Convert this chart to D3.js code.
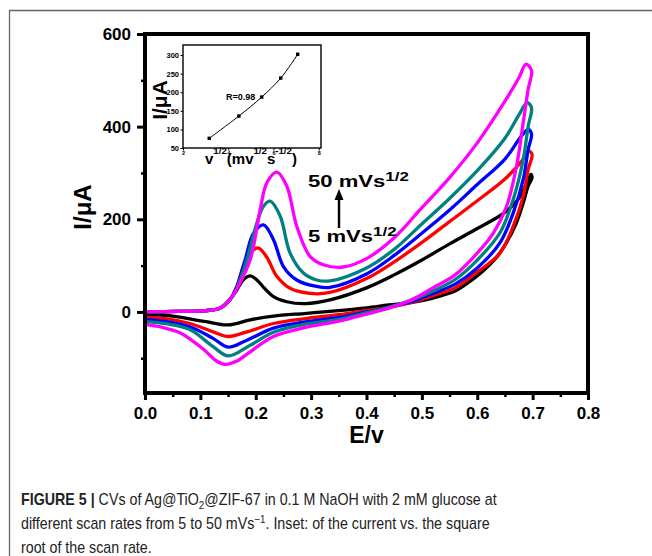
<!DOCTYPE html>
<html>
<head>
<meta charset="utf-8">
<script src="https://cdn.jsdelivr.net/npm/d3@7"></script>
<style>
  html, body { margin: 0; padding: 0; background: #fff; }
  svg { display: block; font-family: "Liberation Sans", Arial, Helvetica, sans-serif; }
</style>
</head>
<body>
<svg id="fig" width="652" height="556"></svg>
<script>
// ---- data: cyclic voltammograms, potential E (V) vs current I (µA) ----
// each scan: anodic sweep 0 -> 0.7 V, then cathodic return 0.7 -> 0 V
const scanColors = ["#000000", "#ff0000", "#0000ff", "#008080", "#ff00ff"];

const anodic1 = [[0,0],[0.06,1],[0.11,3],[0.135,8],[0.153,26],[0.166,48],[0.178,70],[0.19,78],[0.203,68],[0.215,52],[0.232,33],[0.256,22],[0.29,18],[0.334,26],[0.40,52],[0.45,80],[0.50,112],[0.55,147],[0.60,180],[0.65,215],[0.675,245],[0.69,280],[0.697,297]];
const cathodic1 = [[0.699,290],[0.692,272],[0.683,235],[0.67,190],[0.653,150],[0.635,118],[0.61,88],[0.58,60],[0.56,45],[0.52,30],[0.48,20],[0.44,15],[0.40,9],[0.35,3],[0.292,-3],[0.232,-9],[0.19,-17],[0.15,-28],[0.11,-21],[0.05,-9],[0,-5]];

const anodic2 = [[0,0],[0.06,1],[0.11,3],[0.135,8],[0.153,26],[0.166,55],[0.178,100],[0.192,130],[0.205,138],[0.22,118],[0.238,77],[0.262,51],[0.298,40],[0.334,42],[0.40,72],[0.45,108],[0.50,150],[0.55,195],[0.60,240],[0.65,287],[0.68,325],[0.693,347]];
const cathodic2 = [[0.699,340],[0.692,308],[0.683,250],[0.665,185],[0.641,127],[0.60,86],[0.56,52],[0.52,35],[0.48,20],[0.44,10],[0.40,3],[0.35,-6],[0.292,-14],[0.232,-25],[0.184,-43],[0.15,-53],[0.123,-43],[0.081,-25],[0.04,-15],[0,-11]];

const anodic3 = [[0,0],[0.06,1],[0.11,3],[0.135,8],[0.153,26],[0.166,55],[0.181,113],[0.196,170],[0.214,188],[0.232,156],[0.25,98],[0.274,69],[0.31,55],[0.334,53],[0.40,82],[0.45,122],[0.50,170],[0.55,220],[0.60,275],[0.65,330],[0.68,380],[0.692,394]];
const cathodic3 = [[0.698,384],[0.692,351],[0.683,286],[0.665,214],[0.641,149],[0.60,95],[0.56,60],[0.52,40],[0.48,22],[0.44,10],[0.40,0],[0.35,-12],[0.292,-21],[0.232,-35],[0.184,-61],[0.15,-76],[0.123,-57],[0.081,-32],[0.04,-21],[0,-16]];

const anodic4 = [[0,0],[0.06,1],[0.11,3],[0.135,8],[0.153,26],[0.166,52],[0.184,113],[0.202,192],[0.214,228],[0.226,239],[0.244,207],[0.262,127],[0.286,84],[0.31,69],[0.334,67],[0.40,95],[0.45,135],[0.50,190],[0.55,245],[0.60,305],[0.65,375],[0.675,425],[0.69,452]];
const cathodic4 = [[0.698,441],[0.692,401],[0.683,329],[0.665,243],[0.641,171],[0.60,112],[0.56,70],[0.52,45],[0.48,25],[0.44,10],[0.40,-2],[0.35,-16],[0.292,-26],[0.232,-44],[0.19,-72],[0.15,-95],[0.123,-75],[0.081,-38],[0.04,-26],[0,-21]];

const anodic5 = [[0,0],[0.06,1],[0.11,3],[0.135,8],[0.153,26],[0.166,50],[0.19,113],[0.208,221],[0.22,279],[0.238,302],[0.256,272],[0.274,185],[0.298,120],[0.322,102],[0.358,97],[0.40,115],[0.45,160],[0.50,225],[0.55,290],[0.60,365],[0.65,455],[0.675,505],[0.688,535]];
const cathodic5 = [[0.698,521],[0.692,481],[0.683,409],[0.671,315],[0.653,228],[0.629,170],[0.60,127],[0.56,80],[0.52,52],[0.48,25],[0.44,8],[0.40,-5],[0.35,-20],[0.292,-33],[0.232,-53],[0.19,-86],[0.166,-106],[0.145,-113],[0.129,-106],[0.105,-80],[0.063,-45],[0.03,-33],[0,-27]];

const xTicks = [0, 0.1, 0.2, 0.3, 0.4, 0.5, 0.6, 0.7, 0.8];
const xMinorTicks = [0.05, 0.15, 0.25, 0.35, 0.45, 0.55, 0.65, 0.75];
const yTicks = [0, 200, 400, 600];
const yMinorTicks = [-100, 100, 300, 500];

// inset: peak current vs square root of scan rate
const insetRootRate = [3.16, 4.47, 5.48, 6.32, 7.07];
const insetPeakCurrent = [76, 136, 187, 238, 302];
const insetXTicks = [2, 4, 6, 8];
const insetYTicks = [50, 100, 150, 200, 250, 300];

// ---- drawing ----
const svg = d3.select("#fig");

// figure frame (top and left rules)
svg.append("path")
  .attr("d", "M9.5,556 V10.5 H652")
  .attr("fill", "none").attr("stroke", "#666").attr("stroke-width", 1.3);

const x = d3.scaleLinear().domain([0, 0.8]).range([145, 588]);
const y = d3.scaleLinear().domain([-175, 600]).range([393, 34]);

const scans = [
  { color: scanColors[0], pts: anodic1.concat(cathodic1) },
  { color: scanColors[1], pts: anodic2.concat(cathodic2) },
  { color: scanColors[2], pts: anodic3.concat(cathodic3) },
  { color: scanColors[3], pts: anodic4.concat(cathodic4) },
  { color: scanColors[4], pts: anodic5.concat(cathodic5) }
];

const line = d3.line()
  .x(d => x(d[0]))
  .y(d => y(d[1]))
  .curve(d3.curveCatmullRom.alpha(0.5));

svg.append("g").selectAll("path")
  .data(scans)
  .join("path")
  .attr("d", d => line(d.pts))
  .attr("fill", "none")
  .attr("stroke", d => d.color)
  .attr("stroke-width", 3.3)
  .attr("stroke-linejoin", "round")
  .attr("stroke-linecap", "round");

// axes
const tickFont = g => g.selectAll("text")
  .attr("font-size", 17).attr("font-weight", "bold").attr("fill", "#000");

const yAxis = svg.append("g").attr("transform", "translate(145,0)")
  .call(d3.axisLeft(y).tickValues(yTicks).tickSize(8).tickPadding(6).tickFormat(d3.format("d")));
yAxis.select(".domain").remove();
yAxis.selectAll("line").attr("stroke", "#000").attr("stroke-width", 3);
tickFont(yAxis);

const yMinor = svg.append("g").attr("transform", "translate(145,0)")
  .call(d3.axisLeft(y).tickValues(yMinorTicks).tickSize(4).tickFormat(""));
yMinor.select(".domain").remove();
yMinor.selectAll("line").attr("stroke", "#000").attr("stroke-width", 2.5);

const xAxis = svg.append("g").attr("transform", "translate(0,393)")
  .call(d3.axisBottom(x).tickValues(xTicks).tickSize(7).tickPadding(7).tickFormat(d3.format(".1f")));
xAxis.select(".domain").remove();
xAxis.selectAll("line").attr("stroke", "#000").attr("stroke-width", 3);
tickFont(xAxis);

const xMinor = svg.append("g").attr("transform", "translate(0,393)")
  .call(d3.axisBottom(x).tickValues(xMinorTicks).tickSize(4).tickFormat(""));
xMinor.select(".domain").remove();
xMinor.selectAll("line").attr("stroke", "#000").attr("stroke-width", 2.5);

// plot frame
svg.append("rect")
  .attr("x", x(0)).attr("y", y(600))
  .attr("width", x(0.8) - x(0)).attr("height", y(-175) - y(600))
  .attr("fill", "none").attr("stroke", "#000").attr("stroke-width", 4);

// axis titles
svg.append("text")
  .attr("x", (x(0) + x(0.8)) / 2).attr("y", 443)
  .attr("text-anchor", "middle")
  .attr("font-size", 23).attr("font-weight", "bold")
  .text("E/v");

svg.append("text")
  .attr("transform", "translate(91,207) rotate(-90)")
  .attr("text-anchor", "middle")
  .attr("font-size", 24).attr("font-weight", "bold")
  .text("I/μA");

// scan-rate annotation with arrow
function rateLabel(xPos, yPos, value) {
  const t = svg.append("text")
    .attr("transform", `translate(${xPos},${yPos}) scale(1.3,1)`)
    .attr("font-weight", "bold").attr("font-size", 17);
  t.append("tspan").text(value + " mVs");
  t.append("tspan").attr("font-size", 13).attr("dy", -6).text("1/2");
}
rateLabel(308, 187, "50");
rateLabel(308, 242, "5");

svg.append("line")
  .attr("x1", 339).attr("y1", 228).attr("x2", 339).attr("y2", 198)
  .attr("stroke", "#000").attr("stroke-width", 2.4);
svg.append("path")
  .attr("d", "M334.5,200 L343.5,200 L339,189 Z")
  .attr("fill", "#000");

// ---- inset ----
const ix = d3.scaleLinear().domain([2, 8.1]).range([183, 321]);
const iy = d3.scaleLinear().domain([50, 327]).range([148, 45]);

svg.append("rect")
  .attr("x", ix(2)).attr("y", iy(327))
  .attr("width", ix(8.1) - ix(2)).attr("height", iy(50) - iy(327))
  .attr("fill", "#fff").attr("stroke", "#000").attr("stroke-width", 1.4);

const iyAxis = svg.append("g").attr("transform", `translate(${ix(2)},0)`)
  .call(d3.axisLeft(iy).tickValues(insetYTicks).tickSize(2.5).tickPadding(1.5));
iyAxis.select(".domain").remove();
iyAxis.selectAll("line").attr("stroke", "#000");
iyAxis.selectAll("text").attr("font-size", 7.5).attr("font-weight", "bold").attr("fill", "#000");

const ixAxis = svg.append("g").attr("transform", `translate(0,${iy(50)})`)
  .call(d3.axisBottom(ix).tickValues(insetXTicks).tickSize(2.5).tickPadding(1).tickFormat(d3.format("d")));
ixAxis.select(".domain").remove();
ixAxis.selectAll("line").attr("stroke", "#000");
ixAxis.selectAll("text").attr("font-size", 5.5).attr("font-weight", "bold").attr("fill", "#000");

const insetPts = insetRootRate.map((v, i) => [v, insetPeakCurrent[i]]);
svg.append("path")
  .attr("d", d3.line().x(d => ix(d[0])).y(d => iy(d[1])).curve(d3.curveCatmullRom)(insetPts))
  .attr("fill", "none").attr("stroke", "#000").attr("stroke-width", 1);
svg.append("g").selectAll("rect")
  .data(insetPts)
  .join("rect")
  .attr("x", d => ix(d[0]) - 1.7).attr("y", d => iy(d[1]) - 1.7)
  .attr("width", 3.4).attr("height", 3.4).attr("fill", "#000");

svg.append("text")
  .attr("x", 226).attr("y", 100)
  .attr("font-size", 9).attr("font-weight", "bold")
  .text("R=0.98");

svg.append("text")
  .attr("transform", "translate(167,100) rotate(-90)")
  .attr("text-anchor", "middle")
  .attr("font-size", 21).attr("font-weight", "bold")
  .text("I/μA");

const ixTitle = svg.append("text").attr("font-weight", "bold").attr("font-size", 14);
ixTitle.append("tspan").text("v");
ixTitle.append("tspan").attr("font-size", 9).attr("dy", -10).text("1/2");
ixTitle.append("tspan").attr("dy", 10).text("(mv");
ixTitle.append("tspan").attr("font-size", 9).attr("dy", -10).text("1/2");
ixTitle.append("tspan").attr("dy", 10).text("s");
ixTitle.append("tspan").attr("font-size", 9).attr("dy", -10).text("-1/2");
ixTitle.append("tspan").attr("dy", 10).text(")");
{
  const w = ixTitle.node().getComputedTextLength();
  ixTitle.attr("transform", `translate(205,164) scale(${92 / w},1)`);
}

// ---- caption ----
const capLines = [];
const cap1 = svg.append("text").attr("font-size", 16).attr("fill", "#222");
cap1.append("tspan").attr("font-weight", "bold").text("FIGURE 5 | ");
cap1.append("tspan").text("CVs of Ag@TiO");
cap1.append("tspan").attr("font-size", 11).attr("dy", 4).text("2");
cap1.append("tspan").attr("dy", -4).text("@ZIF-67 in 0.1 M NaOH with 2 mM glucose at");
capLines.push([cap1, 505]);

const cap2 = svg.append("text").attr("font-size", 16).attr("fill", "#222");
cap2.append("tspan").text("different scan rates from 5 to 50 mVs");
cap2.append("tspan").attr("font-size", 11).attr("dy", -6).text("−1");
cap2.append("tspan").attr("dy", 6).text(". Inset: of the current vs. the square");
capLines.push([cap2, 529]);

const cap3 = svg.append("text").attr("font-size", 16).attr("fill", "#222");
cap3.append("tspan").text("root of the scan rate.");
capLines.push([cap3, 553]);

const capScale = 476 / cap1.node().getComputedTextLength();
capLines.forEach(([t, base]) => t.attr("transform", `translate(21,${base}) scale(${capScale},1)`));
</script>
</body>
</html>
